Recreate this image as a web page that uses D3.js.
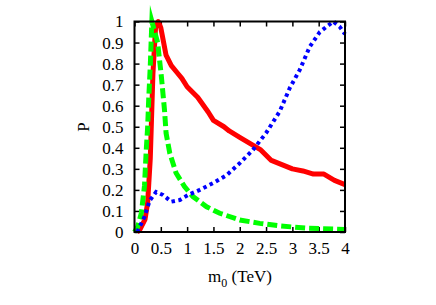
<!DOCTYPE html>
<html>
<head>
<meta charset="utf-8">
<script src="https://cdn.jsdelivr.net/npm/d3@7"></script>
</head>
<body style="margin:0; background:#fff">
<svg id="chart" width="436" height="305"></svg>
<script>
// values: [m0 (TeV), P]
const redSeries = [
    [0.05, 0], [0.1, 0.01], [0.2, 0.06], [0.25, 0.14], [0.3, 0.35], [0.35, 0.75],
    [0.4, 0.97], [0.45, 1.0], [0.5, 0.97], [0.6, 0.84], [0.7, 0.79], [0.8, 0.76],
    [0.9, 0.73], [1.0, 0.69], [1.2, 0.64], [1.4, 0.57], [1.5, 0.53], [1.7, 0.5],
    [1.8, 0.48], [2.0, 0.45], [2.2, 0.42], [2.4, 0.39], [2.6, 0.34], [2.8, 0.32],
    [3.0, 0.3], [3.2, 0.29], [3.4, 0.275], [3.6, 0.275], [3.8, 0.245], [4.0, 0.225]
];
const greenSeries = [
    [0, 0], [0.06, 0.025], [0.13, 0.09], [0.19, 0.22], [0.22, 0.375], [0.25, 0.5],
    [0.27, 0.63], [0.3, 0.79], [0.33, 1.0], [0.44, 0.9], [0.51, 0.74], [0.57, 0.58],
    [0.6, 0.47], [0.67, 0.375], [0.79, 0.28], [0.95, 0.216], [1.11, 0.168],
    [1.37, 0.12], [1.62, 0.089], [2.0, 0.057], [2.38, 0.041], [2.76, 0.029],
    [3.27, 0.018], [4.0, 0.012]
];
const blueSeries = [
    [0.05, 0], [0.19, 0.073], [0.29, 0.15], [0.41, 0.19], [0.54, 0.176], [0.7, 0.144],
    [0.86, 0.152], [1.02, 0.176], [1.24, 0.2], [1.49, 0.232], [1.75, 0.27],
    [2.0, 0.327], [2.25, 0.39], [2.5, 0.47], [2.76, 0.573], [2.95, 0.684],
    [3.14, 0.77], [3.33, 0.88], [3.52, 0.95], [3.78, 1.0], [3.9, 0.975], [4.0, 0.94]
];
const xTicks = [0, 0.5, 1, 1.5, 2, 2.5, 3, 3.5, 4];
const yTicks = [0, 0.1, 0.2, 0.3, 0.4, 0.5, 0.6, 0.7, 0.8, 0.9, 1];

const FONT = "Liberation Serif";
const svg = d3.select("#chart");
const box = { left: 134.5, right: 345, top: 21.5, bottom: 232 };

const x = d3.scaleLinear().domain([0, 4]).range([box.left, box.right]);
const y = d3.scaleLinear().domain([0, 1]).range([box.bottom, box.top]);

const tickFmt = d => d3.format("")(d);

// ticks on all four sides, pointing inward
const clean = g => {
    g.select(".domain").remove();
    g.attr("font-family", FONT).attr("font-size", 17);
    g.selectAll("text").attr("font-family", FONT).attr("font-size", 17).attr("fill", "#000");
};
svg.append("g").attr("transform", `translate(0,${box.bottom})`)
    .call(d3.axisBottom(x).tickValues(xTicks).tickSizeInner(-5).tickSizeOuter(0).tickPadding(10).tickFormat(tickFmt))
    .call(clean);
svg.append("g").attr("transform", `translate(0,${box.top})`)
    .call(d3.axisTop(x).tickValues(xTicks).tickSizeInner(-5).tickSizeOuter(0).tickFormat(""))
    .call(clean);
svg.append("g").attr("transform", `translate(${box.left},0)`)
    .call(d3.axisLeft(y).tickValues(yTicks).tickSizeInner(-5).tickSizeOuter(0).tickPadding(11).tickFormat(tickFmt))
    .call(clean);
svg.append("g").attr("transform", `translate(${box.right},0)`)
    .call(d3.axisRight(y).tickValues(yTicks).tickSizeInner(-5).tickSizeOuter(0).tickFormat(""))
    .call(clean);

svg.selectAll(".tick line").attr("stroke", "#000").attr("stroke-width", 1.5);

const line = d3.line().x(d => x(d[0])).y(d => y(d[1])).curve(d3.curveLinear);

svg.append("path").datum(redSeries)
    .attr("d", line).attr("fill", "none")
    .attr("stroke", "#ff0000").attr("stroke-width", 5).attr("stroke-linejoin", "round");

svg.append("path").datum(greenSeries)
    .attr("d", line).attr("fill", "none")
    .attr("stroke", "#00ff00").attr("stroke-width", 5)
    .attr("stroke-dasharray", "10,4").attr("stroke-linejoin", "miter").attr("stroke-miterlimit", 20);

svg.append("path").datum(blueSeries)
    .attr("d", line).attr("fill", "none")
    .attr("stroke", "#0000ff").attr("stroke-width", 4)
    .attr("stroke-dasharray", "3.5,3.5");

// frame
svg.append("rect")
    .attr("x", box.left).attr("y", box.top)
    .attr("width", box.right - box.left).attr("height", box.bottom - box.top)
    .attr("fill", "none").attr("stroke", "#000").attr("stroke-width", 2);

// axis titles
const xt = svg.append("text").attr("x", 240).attr("y", 282)
    .attr("text-anchor", "middle").attr("font-family", FONT).attr("font-size", 17);
xt.append("tspan").text("m");
xt.append("tspan").attr("dy", 5).attr("font-size", 12).text("0");
xt.append("tspan").attr("dy", -5).text(" (TeV)");

svg.append("text")
    .attr("transform", "translate(89,127) rotate(-90)")
    .attr("text-anchor", "middle").attr("font-family", FONT).attr("font-size", 17)
    .text("P");
</script>
</body>
</html>
